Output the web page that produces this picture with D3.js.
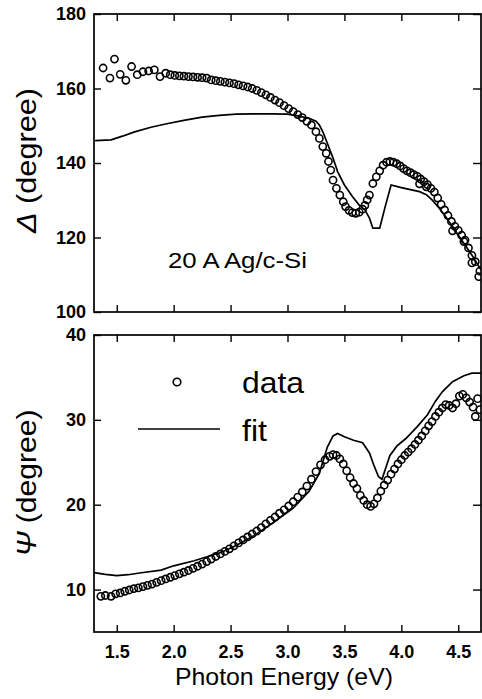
<!DOCTYPE html>
<html>
<head>
<meta charset="utf-8">
<script src="https://cdn.jsdelivr.net/npm/d3@7"></script>
<style>
  html, body { margin: 0; padding: 0; background: #fff; }
  svg { display: block; }
  text { font-family: "Liberation Sans", Arial, Helvetica, sans-serif; fill: #000; }
</style>
</head>
<body>
<svg id="chart" width="482" height="699"></svg>
<script>
// ---------------- DATA ----------------
const xTicks = [1.5, 2.0, 2.5, 3.0, 3.5, 4.0, 4.5];
const deltaTicks = [100, 120, 140, 160, 180];
const psiTicks = [10, 20, 30, 40];

// Delta (degree) measured data: energy (eV) and value
const deltaDataE = [1.38,1.44,1.48,1.53,1.58,1.63,1.68,1.73,1.78,1.83,1.88,1.93,1.97,2.01,2.05,2.09,2.13,2.17,2.21,2.25,2.29,2.33,2.37,2.41,2.45,2.49,2.53,2.57,2.61,2.65,2.69,2.73,2.77,2.81,2.85,2.89,2.93,2.97,3.01,3.05,3.09,3.13,3.17,3.21,3.25,3.28,3.31,3.34,3.36,3.38,3.40,3.43,3.46,3.49,3.51,3.54,3.57,3.60,3.63,3.66,3.68,3.70,3.72,3.75,3.78,3.81,3.84,3.87,3.90,3.93,3.96,3.99,4.02,4.05,4.08,4.11,4.14,4.17,4.20,4.23,4.26,4.29,4.32,4.35,4.38,4.41,4.44,4.47,4.50,4.53,4.56,4.59,4.62,4.65,4.68,4.16,4.22,4.45,4.55,4.62,4.69];
const deltaDataV = [165.5,162.8,167.9,163.8,162.2,165.9,163.7,164.5,164.7,165.0,163.2,164.1,163.7,163.5,163.4,163.3,163.2,163.1,163.0,162.9,162.8,162.3,162.1,161.9,161.7,161.5,161.3,161.0,160.7,160.4,160.0,159.5,158.9,158.3,157.6,156.9,156.2,155.4,154.6,153.8,153.0,152.2,151.2,150.2,148.4,146.6,144.4,142.6,140.4,138.1,135.4,133.2,131.4,129.6,128.3,127.3,126.7,126.5,126.8,127.6,128.6,130.1,131.4,134.5,136.3,137.9,139.4,140.2,140.4,140.2,139.8,139.2,138.5,137.9,137.4,136.9,136.4,135.7,135.0,134.2,133.2,132.2,130.6,128.9,127.4,125.9,124.3,123.0,121.9,120.6,119.3,117.2,115.2,113.5,109.5,134.4,133.6,121.8,118.9,113.2,111.0];

// Delta fit line
const deltaFitE = [1.31,1.45,1.55,1.65,1.80,1.95,2.10,2.25,2.40,2.55,2.70,2.85,3.00,3.10,3.19,3.25,3.28,3.31,3.35,3.40,3.44,3.50,3.57,3.63,3.68,3.72,3.75,3.81,3.86,3.91,4.00,4.10,4.16,4.22,4.27,4.33,4.39,4.45,4.51,4.57,4.63,4.70];
const deltaFitV = [146.0,146.2,147.2,148.3,149.6,150.6,151.5,152.3,152.8,153.1,153.2,153.2,153.1,152.6,152.0,151.2,150.2,148.4,145.3,141.3,137.7,134.1,131.0,128.7,127.4,125.2,122.5,122.5,128.5,134.1,133.4,132.7,132.3,131.5,130.1,128.0,125.6,122.9,120.2,117.5,114.8,111.3];

// Psi (degree) measured data
const psiDataE = [1.36,1.40,1.45,1.49,1.53,1.57,1.61,1.65,1.69,1.73,1.77,1.81,1.85,1.89,1.93,1.97,2.01,2.05,2.09,2.13,2.17,2.21,2.25,2.29,2.33,2.37,2.41,2.45,2.49,2.53,2.57,2.61,2.65,2.69,2.73,2.77,2.81,2.85,2.89,2.93,2.97,3.01,3.05,3.09,3.13,3.17,3.21,3.25,3.29,3.33,3.37,3.40,3.43,3.46,3.49,3.52,3.55,3.58,3.61,3.64,3.67,3.70,3.73,3.76,3.79,3.82,3.85,3.88,3.91,3.94,3.97,4.00,4.03,4.06,4.09,4.12,4.15,4.18,4.21,4.24,4.27,4.30,4.33,4.36,4.39,4.42,4.45,4.48,4.51,4.54,4.57,4.60,4.63,4.65,4.67,4.69];
const psiDataV = [9.2,9.3,9.2,9.5,9.6,9.8,9.95,10.1,10.2,10.35,10.5,10.65,10.85,11.05,11.25,11.45,11.65,11.85,12.05,12.25,12.5,12.75,13.0,13.3,13.6,13.9,14.2,14.5,14.8,15.15,15.5,15.85,16.2,16.55,16.9,17.3,17.75,18.15,18.55,19.0,19.4,19.85,20.35,20.9,21.5,22.2,23.0,23.9,24.7,25.3,25.7,25.9,25.8,25.4,24.8,24.0,23.2,22.5,21.9,21.1,20.5,20.0,19.8,20.1,20.8,21.6,22.3,22.9,23.6,24.2,24.8,25.3,25.8,26.2,26.6,27.1,27.6,28.1,28.7,29.3,29.8,30.4,30.9,31.4,31.8,31.7,31.4,31.9,32.8,33.0,32.6,32.1,31.5,30.4,32.5,31.2];

// Psi fit line
const psiFitE = [1.30,1.40,1.50,1.60,1.70,1.89,2.00,2.18,2.30,2.42,2.55,2.70,2.87,3.05,3.19,3.28,3.35,3.40,3.44,3.50,3.58,3.66,3.72,3.76,3.80,3.83,3.86,3.90,3.96,4.04,4.14,4.23,4.30,4.36,4.45,4.55,4.62,4.70];
const psiFitV = [12.0,11.8,11.65,11.75,11.95,12.3,12.8,13.4,13.9,14.4,15.2,16.3,17.85,19.6,21.6,23.7,26.8,28.1,28.4,28.0,27.6,27.3,26.1,24.6,23.3,23.0,24.2,25.8,26.9,27.8,29.2,30.6,32.2,33.3,34.5,35.2,35.5,35.5];

const annotation = "20 A Ag/c-Si";
const legendLabels = ["data", "fit"];

// ---------------- DRAW ----------------
const svg = d3.select("#chart");
const x = d3.scaleLinear().domain([1.3, 4.7]).range([94, 481]);
const yTop = d3.scaleLinear().domain([100, 180]).range([312, 14]);
const yBot = d3.scaleLinear().domain([5, 40]).range([632, 335]);

function panel(y, ticks, showXLabels) {
  const g = svg.append("g");
  const [x0, x1] = x.range();
  const [yb, yt] = y.range();
  g.append("rect").attr("x", x0).attr("y", yt).attr("width", x1 - x0).attr("height", yb - yt)
    .attr("fill", "none").attr("stroke", "#000").attr("stroke-width", 1.7);

  const bottom = g.append("g").attr("transform", `translate(0,${yb})`)
    .call(d3.axisBottom(x).tickValues(xTicks).tickSizeInner(-7).tickSizeOuter(0).tickPadding(13)
      .tickFormat(showXLabels ? d3.format(".1f") : () => ""));
  const top = g.append("g").attr("transform", `translate(0,${yt})`)
    .call(d3.axisTop(x).tickValues(xTicks).tickSizeInner(-7).tickSizeOuter(0).tickFormat(() => ""));
  const left = g.append("g").attr("transform", `translate(${x0},0)`)
    .call(d3.axisLeft(y).tickValues(ticks).tickSizeInner(-7).tickSizeOuter(0).tickPadding(8).tickFormat(d3.format("d")));
  const right = g.append("g").attr("transform", `translate(${x1},0)`)
    .call(d3.axisRight(y).tickValues(ticks).tickSizeInner(-8).tickSizeOuter(0).tickFormat(() => ""));
  [bottom, top, left, right].forEach(a => {
    a.select(".domain").remove();
    a.selectAll("line").attr("stroke", "#000").attr("stroke-width", 1.4);
    a.selectAll("text").attr("font-size", 18).attr("font-weight", "bold")
      .attr("font-family", '"Liberation Sans", Arial, sans-serif').attr("fill", "#000");
  });
  return g;
}

const gTop = panel(yTop, deltaTicks, false);
const gBot = panel(yBot, psiTicks, true);

svg.append("clipPath").attr("id", "ct").append("rect")
  .attr("x", 94).attr("y", 14).attr("width", 387).attr("height", 298);
svg.append("clipPath").attr("id", "cb").append("rect")
  .attr("x", 94).attr("y", 335).attr("width", 387).attr("height", 297);

function series(g, y, fitE, fitV, dataE, dataV, clip) {
  const line = d3.line().x(d => x(d[0])).y(d => y(d[1]));
  const fit = fitE.map((e, i) => [e, fitV[i]]);
  const data = dataE.map((e, i) => [e, dataV[i]]);
  const c = g.append("g").attr("clip-path", `url(#${clip})`);
  c.append("path").datum(fit).attr("d", line).attr("fill", "none")
    .attr("stroke", "#000").attr("stroke-width", 1.7);
  c.selectAll("circle").data(data).join("circle")
    .attr("cx", d => x(d[0])).attr("cy", d => y(d[1])).attr("r", 3.6)
    .attr("fill", "none").attr("stroke", "#000").attr("stroke-width", 1.6);
}

series(gTop, yTop, deltaFitE, deltaFitV, deltaDataE, deltaDataV, "ct");
series(gBot, yBot, psiFitE, psiFitV, psiDataE, psiDataV, "cb");

// annotation
svg.append("text").attr("x", 168).attr("y", 268).attr("font-size", 22)
  .attr("textLength", 139).attr("lengthAdjust", "spacingAndGlyphs").text(annotation);

// legend
svg.append("circle").attr("cx", 177).attr("cy", 382).attr("r", 3.8)
  .attr("fill", "none").attr("stroke", "#000").attr("stroke-width", 1.6);
svg.append("text").attr("x", 242).attr("y", 393).attr("font-size", 29)
  .attr("textLength", 62).attr("lengthAdjust", "spacingAndGlyphs").text(legendLabels[0]);
svg.append("line").attr("x1", 138).attr("x2", 220).attr("y1", 429).attr("y2", 429)
  .attr("stroke", "#000").attr("stroke-width", 1.6);
svg.append("text").attr("x", 242).attr("y", 441).attr("font-size", 29)
  .attr("textLength", 25).attr("lengthAdjust", "spacingAndGlyphs").text(legendLabels[1]);

// axis titles
const t1 = svg.append("text").attr("transform", "translate(36,160.5) rotate(-90)")
  .attr("text-anchor", "middle").attr("font-size", 28)
  .attr("textLength", 145).attr("lengthAdjust", "spacingAndGlyphs");
t1.append("tspan").attr("font-style", "italic").text("Δ");
t1.append("tspan").text(" (degree)");

const t2 = svg.append("text").attr("transform", "translate(36,483) rotate(-90)")
  .attr("text-anchor", "middle").attr("font-size", 28)
  .attr("textLength", 147).attr("lengthAdjust", "spacingAndGlyphs");
t2.append("tspan").attr("font-style", "italic").text("Ψ");
t2.append("tspan").text(" (degree)");

svg.append("text").attr("x", 284).attr("y", 685).attr("text-anchor", "middle")
  .attr("font-size", 24).attr("textLength", 218).attr("lengthAdjust", "spacingAndGlyphs")
  .text("Photon Energy (eV)");
</script>
</body>
</html>
